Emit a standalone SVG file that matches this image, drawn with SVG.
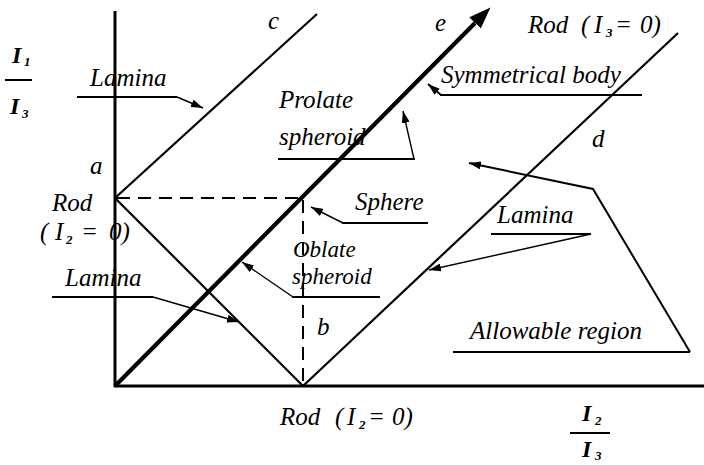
<svg xmlns="http://www.w3.org/2000/svg" width="704" height="465" viewBox="0 0 704 465">
<style>
text{font-family:"Liberation Serif","Times New Roman",serif;font-style:italic;font-size:25px;fill:#000}
.sym{font-weight:bold;font-size:24px}
.sub{font-size:13px;font-weight:bold}
.tight{font-size:23px}
.ax{stroke:#000;stroke-width:3;fill:none}
.ln{stroke:#000;stroke-width:2.2;fill:none}
.thick{stroke:#000;stroke-width:4.2;fill:none}
.dash{stroke:#000;stroke-width:2;fill:none;stroke-dasharray:13 8}
.ul{stroke:#000;stroke-width:2;fill:none}
.ptr{stroke:#000;stroke-width:1.4;fill:none;marker-end:url(#ah)}
.ptr2{stroke:#000;stroke-width:2;fill:none;marker-end:url(#ah)}
</style>
<defs>
<marker id="ah" markerUnits="userSpaceOnUse" markerWidth="12" markerHeight="8" viewBox="0 0 12 8" refX="12" refY="4" orient="auto">
<path d="M0,0 L12,4 L0,8 z" fill="#000"/>
</marker>
<marker id="big" markerUnits="userSpaceOnUse" markerWidth="22" markerHeight="16" viewBox="0 0 22 16" refX="0" refY="8" orient="auto">
<path d="M0,0 L22,8 L0,16 z" fill="#000"/>
</marker>
</defs>
<rect width="704" height="465" fill="#fff"/>

<g id="axes">
<line class="ax" x1="115" y1="11" x2="115" y2="387"/>
<line class="ax" x1="114" y1="386" x2="704" y2="386"/>
</g>

<g id="connectors">
<line class="ln" x1="115" y1="198" x2="317" y2="14"/>
<line class="ln" x1="115" y1="198" x2="303" y2="386"/>
<line class="ln" x1="303" y1="386" x2="678" y2="33"/>
<line class="thick" x1="115" y1="386" x2="475" y2="23" marker-end="url(#big)"/>
<line class="dash" x1="117" y1="198" x2="303" y2="198"/>
<line class="dash" x1="303" y1="200" x2="303" y2="386"/>
<line class="ul" x1="77" y1="97" x2="177" y2="97"/>
<line class="ptr" x1="177" y1="97" x2="203" y2="108"/>
<line class="ul" x1="278" y1="159" x2="415" y2="159"/>
<line class="ptr" x1="414" y1="159" x2="403" y2="111"/>
<line class="ul" x1="440" y1="95" x2="642" y2="95"/>
<line class="ptr2" x1="441" y1="95" x2="428" y2="84"/>
<line class="ul" x1="342" y1="223" x2="428" y2="223"/>
<line class="ptr" x1="343" y1="223" x2="311" y2="207"/>
<line class="ul" x1="292" y1="297" x2="380" y2="297"/>
<line class="ptr" x1="293" y1="297" x2="242" y2="262"/>
<line class="ul" x1="52" y1="297" x2="153" y2="297"/>
<line class="ptr" x1="153" y1="297" x2="239" y2="322"/>
<line class="ul" x1="491" y1="234" x2="591" y2="234"/>
<line class="ptr" x1="591" y1="234" x2="429" y2="270"/>
<line class="ul" x1="453" y1="352" x2="690" y2="352"/>
<polyline class="ptr2" points="690,352 593,189 469,163"/>
</g>

<g id="axis-y-label">
<text class="sym" x="12" y="63">I</text><text class="sub" x="24" y="66">1</text>
<line class="ul" x1="5" y1="80" x2="32" y2="80"/>
<text class="sym" x="10" y="114">I</text><text class="sub" x="22" y="118">3</text>
</g>
<g id="axis-x-label">
<text class="sym" x="582" y="421">I</text><text class="sub" x="595" y="425">2</text>
<line class="ul" x1="570" y1="433" x2="610" y2="433"/>
<text class="sym" x="582" y="457">I</text><text class="sub" x="595" y="460">3</text>
</g>

<g id="lamina-top"><text x="90" y="86">Lamina</text></g>
<g id="label-c"><text x="268" y="29">c</text></g>
<g id="label-e"><text x="435" y="31">e</text></g>
<g id="rod-i3">
<text x="528" y="33">Rod</text><text x="581" y="33">(</text><text x="594" y="33">I</text><text class="sub" x="606" y="37">3</text><text x="615" y="33">=</text><text x="640" y="33">0)</text>
</g>
<g id="symmetrical-body"><text x="441" y="83">Symmetrical body</text></g>
<g id="prolate-spheroid"><text x="279" y="108">Prolate</text><text x="279" y="145">spheroid</text></g>
<g id="label-a"><text x="90" y="174">a</text></g>
<g id="label-d"><text x="592" y="147">d</text></g>
<g id="rod-i2-left">
<text x="52" y="211">Rod</text><text x="40" y="240">(</text><text x="55" y="240">I</text><text class="sub" x="66" y="244">2</text><text x="81" y="240">=</text><text x="109" y="240">0)</text>
</g>
<g id="sphere"><text x="355" y="210">Sphere</text></g>
<g id="oblate-spheroid"><text class="tight" x="293" y="257">Oblate</text><text class="tight" x="292" y="284">spheroid</text></g>
<g id="lamina-left"><text x="65" y="286">Lamina</text></g>
<g id="lamina-right"><text x="497" y="223">Lamina</text></g>
<g id="label-b"><text x="317" y="335">b</text></g>
<g id="allowable-region"><text x="470" y="339">Allowable region</text></g>
<g id="rod-i2-bottom">
<text x="280" y="425">Rod</text><text x="335" y="425">(</text><text x="347" y="425">I</text><text class="sub" x="359" y="429">2</text><text x="368" y="425">=</text><text x="392" y="425">0)</text>
</g>
</svg>
